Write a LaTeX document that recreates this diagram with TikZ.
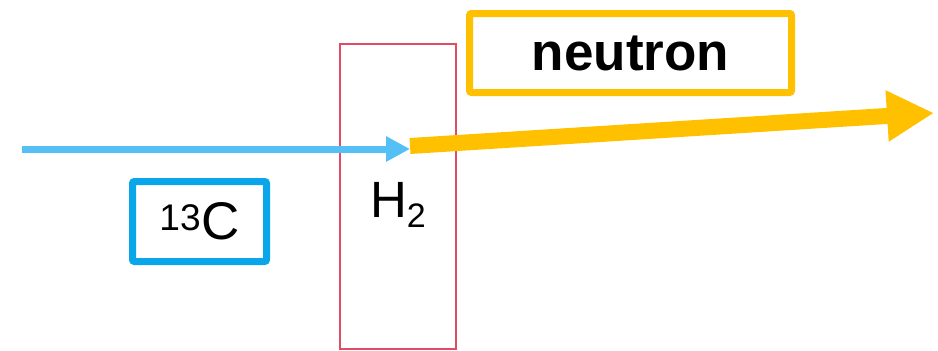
\documentclass[tikz,border=0pt]{standalone}
\usepackage{fontspec}
\setmainfont{Liberation Sans}
\usepackage{tikz}
\usepackage{xcolor}
\usetikzlibrary{arrows.meta}
\usetikzlibrary{positioning}

\tikzset{
	label_box/.style={draw, line width={7pt}, rounded corners={2pt}, inner sep={0pt}, fill={WHITE!100}},
	beam_line/.style={line cap=butt}
}

\begin{document}
\begin{tikzpicture}[x={1pt}, y={-1pt}]
				\definecolor{WHITE}{RGB}{255, 255, 255}
				\definecolor{ALMOST_BLACK}{RGB}{0, 0, 0}
				\definecolor{ION_BLUE}{RGB}{85, 192, 246}
				\definecolor{BOX_BLUE}{RGB}{10, 166, 234}
				\definecolor{TARGET_RED}{RGB}{224, 76, 98}
				\definecolor{NEUTRON_ORANGE}{RGB}{255, 192, 0}
				\useasboundingbox (0, 0) rectangle (938, 351);
				
				% gas target
				\draw[line width={2pt}, color={TARGET_RED!100}] (340, 44) rectangle (456, 349);
				\node[text={ALMOST_BLACK!100}, font={\fontsize{51}{56}\selectfont}] (target) at (398, 205) {H\raisebox{-10pt}{\fontsize{34}{40}\selectfont 2}};
				
				% beam and neutron
				\coordinate (ion_start) at (22, 149);
				\coordinate (ion_stop) at (410, 149);
				\coordinate (neutron_start) at (410, 146);
				\coordinate (neutron_tip) at (934, 113);
				\draw[beam_line, line width={7pt}, color={ION_BLUE!100}, -{Triangle[length={24pt}, width={24pt}]}] (ion_start) -- (ion_stop);
				\draw[beam_line, line width={16pt}, color={NEUTRON_ORANGE!100}, -{Triangle[length={47pt}, width={48pt}]}] (neutron_start) -- (neutron_tip);
				
				% labels
				\node[label_box, draw={BOX_BLUE!100}, text={ALMOST_BLACK!100}, minimum width={134pt}, minimum height={80pt}, font={\fontsize{53}{60}\selectfont}] (ion) at (199.5, 221.5) {\textsuperscript{13}C};
				\node[label_box, draw={NEUTRON_ORANGE!100}, text={ALMOST_BLACK!100}, minimum width={322pt}, minimum height={79pt}, font={\fontsize{53}{60}\selectfont\bfseries}] (neutron) at (630.5, 53) {neutron};
				
			\end{tikzpicture}
\end{document}
